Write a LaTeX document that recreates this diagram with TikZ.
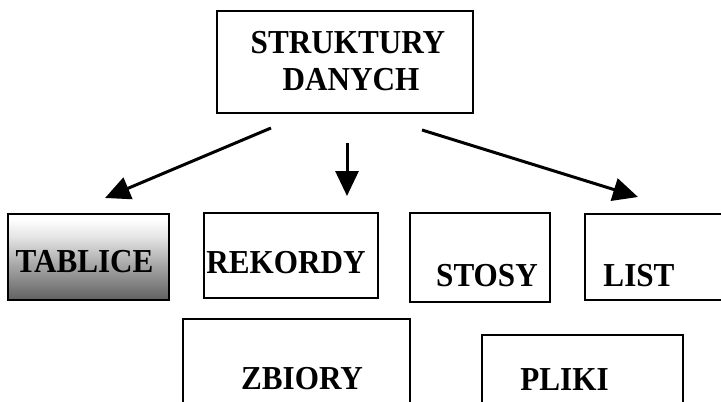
\documentclass[tikz,border=0pt]{standalone}
\usepackage{fontspec}
\setmainfont{Liberation Serif}
\newfontfamily\boxfont[FakeStretch=0.93]{Liberation Serif}
\usetikzlibrary{arrows.meta}
% grey fade, dark at the bottom, white at the top
\pgfdeclareverticalshading{tabfade}{100bp}{color(0bp)=(black!80); color(25bp)=(black!62); color(45bp)=(black!35); color(62bp)=(black!10); color(72bp)=(white); color(100bp)=(white)}
\begin{document}
\begin{tikzpicture}[x=1pt,y=-1pt,
  box/.style={draw=black, line width=1.6pt, inner sep=0pt, rectangle},
  lbl/.style={inner sep=0pt, anchor=base, font=\boxfont\bfseries\fontsize{33.5}{36}\selectfont, text=black},
  arr/.style={line width=3pt, -{Triangle[length=25pt,width=23pt]}}]
\useasboundingbox (0,0) rectangle (721,402);
\clip (0,0) rectangle (721,402);
\fill[white] (0,0) rectangle (721,402);

% boxes
\node[box, minimum width=256pt, minimum height=102pt] (root) at (345,62) {};
\node[box, shading=tabfade, minimum width=161pt, minimum height=86pt] (tab) at (88.5,257) {};
\node[box, minimum width=174pt, minimum height=85pt] (rek) at (291,255.5) {};
\node[box, minimum width=140pt, minimum height=89pt] (sto) at (480,257.5) {};
\node[box, minimum width=155pt, minimum height=86pt] (lst) at (662.5,257) {};
\node[box, minimum width=227pt, minimum height=101pt] (zbi) at (296.5,369.5) {};
\node[box, minimum width=201pt, minimum height=85pt] (pli) at (582.5,377.5) {};

% labels
\node[lbl] (t1) at (348,53) {STRUKTURY};
\node[lbl] (t2) at (351,90) {DANYCH};
\node[lbl] (t3) at (84.5,272) {TABLICE};
\node[lbl] (t4) at (286,273) {REKORDY};
\node[lbl] (t5) at (487,286) {STOSY};
\node[lbl] (t6) at (639,286) {LIST};
\node[lbl] (t7) at (302,389) {ZBIORY};
\node[lbl] (t8) at (564.5,390) {PLIKI};

% arrows
\coordinate (la) at (271,128);
\coordinate (lb) at (105,198);
\coordinate (ma) at (347,143);
\coordinate (mb) at (347,196);
\coordinate (ra) at (422,130);
\coordinate (rb) at (638,197);
\draw[arr] (la) -- (lb);
\draw[arr] (ma) -- (mb);
\draw[arr] (ra) -- (rb);
\end{tikzpicture}
\end{document}
